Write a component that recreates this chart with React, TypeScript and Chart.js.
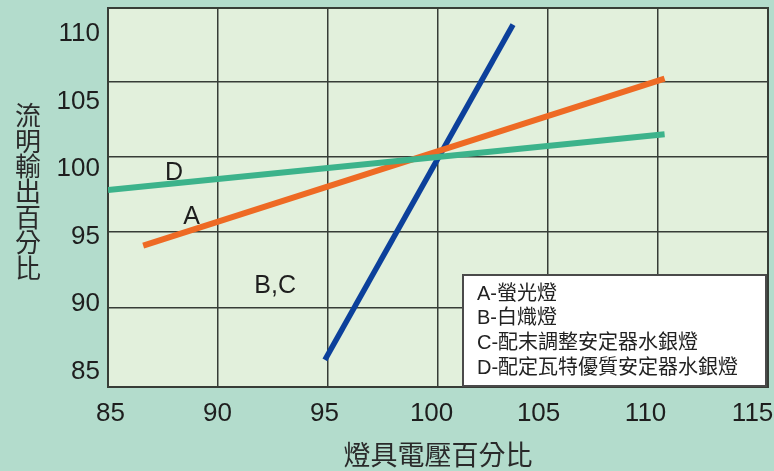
import { useEffect, useRef } from 'react';
import { Chart, registerables } from 'chart.js';

Chart.register(...registerables);

// ---- data ----
const xGridTicks = [85, 90, 95, 100, 105, 110, 115];
const yGridTicks = [90, 95, 100, 105];
const xTickLabels = [85, 90, 95, 100, 105, 110, 115];
const yTickLabels = [85, 90, 95, 100, 105, 110];

// A - 螢光燈 (orange)
const seriesAX = [86.6, 110.3];
const seriesAY = [94.1, 105.2];
// B,C - 白熾燈 / 配末調整安定器水銀燈 (blue)
const seriesBCX = [94.86, 103.41];
const seriesBCY = [86.5, 108.8];
// D - 配定瓦特優質安定器水銀燈 (green)
const seriesDX = [85, 110.3];
const seriesDY = [97.8, 101.5];

const lineLabelText = ['D', 'A', 'B,C'];
const lineLabelX = [88.0, 88.8, 92.6];
const lineLabelY = [98.9, 96.0, 91.4];

const legendLines = ['A-螢光燈', 'B-白熾燈', 'C-配末調整安定器水銀燈', 'D-配定瓦特優質安定器水銀燈'];
const xTitle = '燈具電壓百分比';
const yTitle = '流明輸出百分比';

// ---- styles ----
const OUTER_BG = '#b3dccc';
const PLOT_BG = '#e2f0dc';
const GRID = '#373d37';
const TEXT = '#1e1e1e';
const LATIN = "'Liberation Sans', Arial, 'Noto Sans CJK TC', sans-serif";
const CJK = "'Noto Sans CJK TC', 'Noto Sans CJK SC', sans-serif";

const pts = (xs: number[], ys: number[]) => xs.map((x, i) => ({ x, y: ys[i] }));

const decor = {
  id: 'decor',
  beforeDraw(chart: any) {
    const { ctx, chartArea: a, width, height } = chart;
    ctx.save();
    ctx.fillStyle = OUTER_BG;
    ctx.fillRect(0, 0, width, height);
    ctx.fillStyle = PLOT_BG;
    ctx.fillRect(a.left, a.top, a.right - a.left, a.bottom - a.top);
    // vertical y title
    ctx.fillStyle = '#2a2a2a';
    ctx.font = `26px ${CJK}`;
    ctx.textAlign = 'center';
    ctx.textBaseline = 'middle';
    const chars = Array.from(yTitle);
    const step = 25.4;
    const cy = (a.top + a.bottom) / 2 - 6;
    const y0 = cy - ((chars.length - 1) * step) / 2;
    chars.forEach((c, i) => ctx.fillText(c, 28, y0 + i * step));
    ctx.restore();
  },
  beforeDatasetsDraw(chart: any) {
    const { ctx, chartArea: a } = chart;
    ctx.save();
    ctx.strokeStyle = GRID;
    ctx.lineWidth = 2;
    ctx.strokeRect(a.left, a.top, a.right - a.left, a.bottom - a.top);
    ctx.restore();
  },
  afterDatasetsDraw(chart: any) {
    const { ctx, chartArea: a, scales } = chart;
    ctx.save();
    // line labels
    ctx.fillStyle = TEXT;
    ctx.font = `25px ${LATIN}`;
    ctx.textAlign = 'center';
    ctx.textBaseline = 'middle';
    lineLabelText.forEach((t, i) => {
      ctx.fillText(t, scales.x.getPixelForValue(lineLabelX[i]), scales.y.getPixelForValue(lineLabelY[i]));
    });
    // legend box
    const w = 303;
    const h = 111;
    const bx = a.right - 2 - w;
    const by = a.bottom - 1 - h;
    ctx.fillStyle = '#ffffff';
    ctx.fillRect(bx, by, w, h);
    ctx.strokeStyle = '#4a4a4a';
    ctx.lineWidth = 2;
    ctx.strokeRect(bx, by, w, h);
    ctx.fillStyle = '#222222';
    ctx.font = `20px ${LATIN}`;
    ctx.textAlign = 'left';
    ctx.textBaseline = 'middle';
    legendLines.forEach((t, i) => ctx.fillText(t, bx + 14, by + 19 + i * 24.7));
    ctx.restore();
  },
};

export default function App() {
  const ref = useRef<HTMLCanvasElement | null>(null);
  useEffect(() => {
    document.body.style.margin = '0';
    const canvas = ref.current!;
    const chart = new Chart(canvas, {
      type: 'scatter',
      data: {
        datasets: [
          {
            label: 'D',
            data: pts(seriesDX, seriesDY),
            showLine: true,
            borderColor: '#3cb38b',
            borderWidth: 6,
            pointRadius: 0,
            borderCapStyle: 'butt',
            xAxisID: 'x',
            yAxisID: 'y',
          },
          {
            label: 'A',
            data: pts(seriesAX, seriesAY),
            showLine: true,
            borderColor: '#ee6a24',
            borderWidth: 6,
            pointRadius: 0,
            borderCapStyle: 'butt',
            xAxisID: 'x',
            yAxisID: 'y',
          },
          {
            label: 'B,C',
            data: pts(seriesBCX, seriesBCY),
            showLine: true,
            borderColor: '#0c409b',
            borderWidth: 5.5,
            pointRadius: 0,
            borderCapStyle: 'butt',
            xAxisID: 'x',
            yAxisID: 'y',
          },
        ],
      },
      options: {
        responsive: false,
        animation: false,
        devicePixelRatio: 1,
        layout: { padding: { top: 8, right: 6, left: 0, bottom: 0 } },
        plugins: { legend: { display: false }, tooltip: { enabled: false } },
        scales: {
          x: {
            type: 'linear',
            position: 'bottom',
            min: 85,
            max: 115,
            afterBuildTicks: (s: any) => { s.ticks = xGridTicks.map((v) => ({ value: v })); },
            ticks: { display: false },
            grid: { color: GRID, lineWidth: 1.5, drawTicks: false },
            border: { display: false },
          },
          xLabels: {
            type: 'linear',
            position: 'bottom',
            min: 84.88,
            max: 115.72,
            afterBuildTicks: (s: any) => { s.ticks = xTickLabels.map((v) => ({ value: v })); },
            afterFit: (s: any) => { s.height = 84; s.paddingLeft = 0; s.paddingRight = 0; },
            ticks: {
              color: TEXT,
              font: { family: LATIN, size: 26 },
              padding: 11,
              maxRotation: 0,
              autoSkip: false,
              callback: (v: any) => String(v),
            },
            grid: { display: false, drawTicks: false },
            border: { display: false },
            title: {
              display: true,
              text: xTitle,
              color: '#2a2a2a',
              font: { family: CJK, size: 27 },
              padding: { top: 0, bottom: 0 },
            },
          },
          y: {
            type: 'linear',
            position: 'left',
            min: 84.7,
            max: 109.9,
            afterBuildTicks: (s: any) => { s.ticks = yGridTicks.map((v) => ({ value: v })); },
            afterFit: (s: any) => { s.width = 0; s.paddingTop = 0; s.paddingBottom = 0; },
            ticks: { display: false },
            grid: { color: GRID, lineWidth: 1.5, drawTicks: false },
            border: { display: false },
          },
          yLabels: {
            type: 'linear',
            position: 'left',
            min: 83.84,
            max: 111.93,
            afterBuildTicks: (s: any) => { s.ticks = yTickLabels.map((v) => ({ value: v })); },
            afterFit: (s: any) => { s.width = 108; s.paddingTop = 0; s.paddingBottom = 0; },
            ticks: {
              color: TEXT,
              font: { family: LATIN, size: 26 },
              padding: 8,
              autoSkip: false,
              callback: (v: any) => String(v),
            },
            grid: { display: false, drawTicks: false },
            border: { display: false },
          },
        },
      } as any,
      plugins: [decor],
    });
    return () => chart.destroy();
  }, []);
  return <canvas ref={ref} width={774} height={471} style={{ display: 'block' }} />;
}
